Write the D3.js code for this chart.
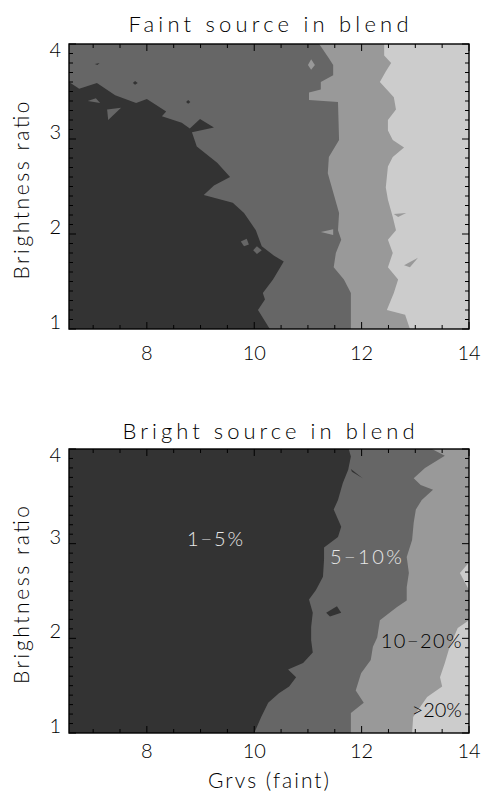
<!DOCTYPE html>
<html>
<head>
<meta charset="utf-8">
<script src="https://cdn.jsdelivr.net/npm/d3@7"></script>
<style>
  body { margin: 0; background: #ffffff; }
  text { font-family: "Lato", "DejaVu Sans", sans-serif; font-weight: 300; }
</style>
</head>
<body>
<svg id="chart" width="482" height="799"></svg>
<script>
// ---- axis ranges and ticks ----
const grvsDomain = [6.55, 14];
const ratioDomain = [1, 4];
const grvsTicks = [8, 10, 12, 14];
const ratioTicks = [1, 2, 3, 4];

// ---- contamination bands: darkest (lowest) to lightest (highest) ----
const bandColors = ["#333333", "#666666", "#999999", "#cccccc"];
const bandLabels = ["1\u22125%", "5\u221210%", "10\u221220%", ">20%"];

// ---- faint source in blend: band edges as [Grvs, ratio] from top to bottom ----
const faintEdge5 = [
  [6.55, 3.60], [6.74, 3.53], [7.07, 3.59], [7.41, 3.46], [7.80, 3.38], [8.00, 3.42],
  [8.36, 3.29], [8.28, 3.24], [8.65, 3.17], [8.80, 3.11], [8.99, 3.21], [9.25, 3.12],
  [8.84, 3.07], [8.93, 2.92], [9.31, 2.75], [9.55, 2.60], [9.25, 2.51], [9.06, 2.41],
  [9.60, 2.33], [9.81, 2.22], [10.03, 2.04], [10.14, 1.87], [10.37, 1.77], [10.55, 1.71],
  [10.35, 1.52], [10.16, 1.38], [10.20, 1.31], [10.07, 1.20], [10.29, 1.00]
];
const faintEdge10 = [
  [11.21, 4.00], [11.39, 3.85], [11.47, 3.78], [11.47, 3.67], [11.24, 3.60], [11.24, 3.52],
  [11.02, 3.49], [11.02, 3.41], [11.56, 3.39], [11.58, 2.99], [11.39, 2.81], [11.37, 2.64],
  [11.58, 2.22], [11.56, 2.04], [11.62, 1.94], [11.52, 1.80], [11.48, 1.65], [11.67, 1.52],
  [11.80, 1.38], [11.80, 1.00]
];
const faintEdge20 = [
  [12.42, 4.00], [12.42, 3.88], [12.55, 3.80], [12.45, 3.71], [12.34, 3.60], [12.60, 3.44],
  [12.64, 3.31], [12.49, 3.20], [12.49, 3.09], [12.58, 2.99], [12.79, 2.91], [12.58, 2.81],
  [12.49, 2.71], [12.45, 2.49], [12.49, 2.36], [12.58, 2.18], [12.64, 2.04], [12.49, 1.94],
  [12.58, 1.80], [12.49, 1.65], [12.68, 1.52], [12.60, 1.38], [12.47, 1.20], [12.81, 1.15],
  [12.90, 1.00]
];
// isolated patches: band index and outline
const faintPatches = [
  { band: 1, pts: [[7.26, 3.31], [7.52, 3.33], [7.28, 3.20]] },
  { band: 1, pts: [[6.90, 3.40], [7.05, 3.43], [7.13, 3.38]] },
  { band: 1, pts: [[9.98, 1.83], [10.05, 1.87], [10.14, 1.83], [10.05, 1.79]] },
  { band: 1, pts: [[9.75, 1.92], [9.86, 1.95], [9.90, 1.89], [9.81, 1.87]] },
  { band: 0, pts: [[7.03, 3.79], [7.12, 3.80], [7.08, 3.78]] },
  { band: 0, pts: [[7.74, 3.59], [7.78, 3.61], [7.83, 3.59], [7.78, 3.57]] },
  { band: 0, pts: [[8.73, 3.39], [8.77, 3.41], [8.81, 3.39], [8.77, 3.37]] },
  { band: 2, pts: [[11.00, 3.78], [11.06, 3.84], [11.13, 3.78], [11.06, 3.73]] },
  { band: 2, pts: [[11.24, 2.02], [11.47, 2.05], [11.47, 1.99]] },
  { band: 2, pts: [[12.60, 2.21], [12.83, 2.22], [12.68, 2.18]] },
  { band: 2, pts: [[12.79, 1.67], [13.05, 1.75], [12.90, 1.65]] }
];

// ---- bright source in blend ----
const brightEdge5 = [
  [11.76, 4.00], [11.80, 3.92], [11.75, 3.78], [11.65, 3.64], [11.56, 3.46], [11.48, 3.36],
  [11.62, 3.18], [11.56, 3.07], [11.30, 2.96], [11.30, 2.83], [11.28, 2.65], [11.15, 2.51],
  [11.02, 2.41], [11.09, 2.27], [11.06, 2.12], [11.06, 1.98], [11.09, 1.85], [10.91, 1.74],
  [10.63, 1.67], [10.78, 1.59], [10.65, 1.49], [10.46, 1.42], [10.26, 1.32], [10.13, 1.17],
  [10.00, 1.00]
];
const brightEdge10 = [
  [13.31, 4.00], [13.55, 3.93], [13.18, 3.80], [12.97, 3.69], [13.10, 3.62], [13.33, 3.57],
  [13.12, 3.46], [13.01, 3.36], [12.97, 3.22], [12.94, 3.04], [12.84, 2.86], [12.88, 2.69],
  [12.84, 2.54], [12.84, 2.40], [12.66, 2.33], [12.34, 2.19], [12.29, 2.01], [12.21, 1.91],
  [12.17, 1.77], [11.99, 1.63], [11.89, 1.45], [12.04, 1.32], [11.80, 1.21], [11.80, 1.00]
];
const brightEdge20 = [
  [14.00, 2.19], [13.79, 2.11], [13.64, 1.91], [13.55, 1.74], [13.46, 1.59], [13.50, 1.49],
  [13.22, 1.38], [12.96, 1.17], [12.94, 1.00]
];
const brightPatches = [
  { band: 0, pts: [[11.34, 2.27], [11.54, 2.34], [11.62, 2.27], [11.41, 2.23]] },
  { band: 0, pts: [[11.80, 3.79], [12.02, 3.69], [11.82, 3.76]] },
  { band: 3, pts: [[14.00, 2.80], [13.83, 2.69], [14.00, 2.51]] }
];

// ---- panel layout ----
const margin = { left: 69, right: 469 };
const panels = [
  { title: "Faint source in blend", top: 44, bottom: 329, titleY: 32, tickLabelY: 360,
    edges: [faintEdge5, faintEdge10, faintEdge20], patches: faintPatches, xTitle: null, bandText: false },
  { title: "Bright source in blend", top: 449, bottom: 733, titleY: 439, tickLabelY: 758,
    edges: [brightEdge5, brightEdge10, brightEdge20], patches: brightPatches, xTitle: "Grvs (faint)", bandText: true }
];
// where the band names sit in the lower panel (Grvs, ratio of baseline)
const bandTextSpots = [[9.27, 2.975], [12.08, 2.785], [13.11, 1.90], [13.40, 1.17]];
const bandTextColors = ["#e8e8e8", "#e8e8e8", "#000000", "#000000"];

const svg = d3.select("#chart");

panels.forEach(p => {
  const x = d3.scaleLinear().domain(grvsDomain).range([margin.left, margin.right]);
  const y = d3.scaleLinear().domain(ratioDomain).range([p.bottom, p.top]);
  const g = svg.append("g");

  const clipId = "clip" + p.top;
  g.append("clipPath").attr("id", clipId)
    .append("rect").attr("x", x(grvsDomain[0])).attr("y", y(ratioDomain[1]))
    .attr("width", x(grvsDomain[1]) - x(grvsDomain[0]))
    .attr("height", y(ratioDomain[0]) - y(ratioDomain[1]));

  const fill = g.append("g").attr("clip-path", `url(#${clipId})`);
  const line = d3.line().x(d => x(d[0])).y(d => y(d[1]));

  // lightest band everywhere, then darker bands to the left of each edge
  fill.append("rect")
    .attr("x", x(grvsDomain[0])).attr("y", y(ratioDomain[1]))
    .attr("width", x(grvsDomain[1]) - x(grvsDomain[0]))
    .attr("height", y(ratioDomain[0]) - y(ratioDomain[1]))
    .attr("fill", bandColors[3]);

  const [gMin, gMax] = grvsDomain, [rMin, rMax] = ratioDomain;
  for (let i = p.edges.length - 1; i >= 0; i--) {
    const edge = p.edges[i];
    const first = edge[0];
    const ring = [];
    if (first[0] >= gMax - 1e-6) ring.push([gMin, rMax], [gMax, rMax]);
    else if (first[1] >= rMax - 1e-6) ring.push([gMin, rMax]);
    ring.push(...edge, [gMin, rMin]);
    fill.append("path").attr("d", line(ring) + "Z").attr("fill", bandColors[i]);
  }
  p.patches.forEach(pt => {
    fill.append("path").attr("d", line(pt.pts) + "Z").attr("fill", bandColors[pt.band]);
  });

  // frame
  g.append("rect")
    .attr("x", x(gMin)).attr("y", y(rMax))
    .attr("width", x(gMax) - x(gMin)).attr("height", y(rMin) - y(rMax))
    .attr("fill", "none").attr("stroke", "#000").attr("stroke-width", 1.4);

  // ticks on all four sides
  const ticks = g.append("g").attr("stroke", "#000").attr("stroke-width", 1);
  const xMinor = d3.range(7, 14.001, 0.5);
  xMinor.forEach(v => {
    const len = grvsTicks.includes(v) ? 7 : 4;
    ticks.append("line").attr("x1", x(v)).attr("x2", x(v)).attr("y1", y(rMin)).attr("y2", y(rMin) - len);
    ticks.append("line").attr("x1", x(v)).attr("x2", x(v)).attr("y1", y(rMax)).attr("y2", y(rMax) + len);
  });
  const yMinor = d3.range(10, 41).map(v => v / 10);
  yMinor.forEach(v => {
    const len = ratioTicks.includes(v) ? 7 : 4;
    ticks.append("line").attr("y1", y(v)).attr("y2", y(v)).attr("x1", x(gMin)).attr("x2", x(gMin) + len);
    ticks.append("line").attr("y1", y(v)).attr("y2", y(v)).attr("x1", x(gMax)).attr("x2", x(gMax) - len);
  });

  // tick labels
  g.selectAll(".xl").data(grvsTicks).enter().append("text")
    .attr("x", d => x(d)).attr("y", p.tickLabelY)
    .attr("text-anchor", "middle").attr("font-size", 20).attr("fill", "#000")
    .text(d => d);
  g.selectAll(".yl").data(ratioTicks).enter().append("text")
    .attr("x", 61).attr("y", d => y(d))
    .attr("dy", d => d === rMax ? 13 : 0)
    .attr("text-anchor", "end").attr("font-size", 20).attr("fill", "#000")
    .text(d => d);

  // titles
  g.append("text").attr("x", 268.5).attr("y", p.titleY)
    .attr("text-anchor", "middle").attr("font-size", 22)
    .attr("textLength", p.top < 100 ? 280 : 292).attr("lengthAdjust", "spacing")
    .text(p.title);
  const yMid = (p.top + p.bottom) / 2 + 4;
  g.append("text").attr("transform", `translate(29,${yMid}) rotate(-90)`)
    .attr("text-anchor", "middle").attr("font-size", 21)
    .attr("textLength", 178).attr("lengthAdjust", "spacing")
    .text("Brightness ratio");
  if (p.xTitle) {
    g.append("text").attr("x", 268.5).attr("y", 788)
      .attr("text-anchor", "middle").attr("font-size", 21)
      .attr("textLength", 121).attr("lengthAdjust", "spacing")
      .text(p.xTitle);
  }

  if (p.bandText) {
    const widths = [56, 72, 81, 50];
    bandLabels.forEach((t, i) => {
      g.append("text")
        .attr("x", x(bandTextSpots[i][0])).attr("y", y(bandTextSpots[i][1]))
        .attr("text-anchor", "middle").attr("font-size", 20)
        .attr("textLength", widths[i]).attr("lengthAdjust", "spacing")
        .attr("fill", bandTextColors[i]).text(t);
    });
  }
});
</script>
</body>
</html>
